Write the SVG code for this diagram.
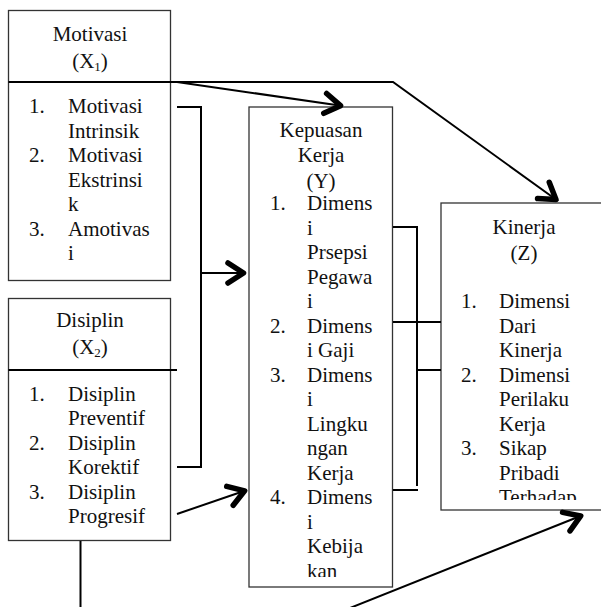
<svg xmlns="http://www.w3.org/2000/svg" width="601" height="607" viewBox="0 0 601 607">
<style>
.box{fill:#fff;stroke:#333;stroke-width:1.3}
.t{font-family:"Liberation Serif","Times New Roman",serif;font-size:21px;fill:#111}
.c{text-anchor:middle}
.ln{fill:none;stroke:#000;stroke-width:2}
</style>
<defs>
<marker id="ah" markerUnits="userSpaceOnUse" markerWidth="40" markerHeight="40" viewBox="-20 -20 40 40" refX="0" refY="0" orient="auto" overflow="visible">
<path d="M-18,-10 L-2.5,0 L-18,10" fill="none" stroke="#000" stroke-width="5.5" stroke-linecap="round" stroke-linejoin="round"/>
</marker>
<clipPath id="clipY"><rect x="249" y="107" width="144" height="470"/></clipPath>
<clipPath id="clipZ"><rect x="441" y="203" width="170" height="297"/></clipPath>
</defs>
<rect width="601" height="607" fill="#fff"/>

<g id="motivasi">
<rect class="box" x="8.5" y="10.5" width="162" height="270"/>
<line x1="8.5" y1="82" x2="171" y2="82" stroke="#000" stroke-width="2"/>
<text class="t c" x="90" y="41">Motivasi</text>
<text class="t c" x="90" y="68">(X<tspan font-size="13" dy="3">1</tspan><tspan dy="-3">)</tspan></text>
<text class="t" x="29" y="113">1.</text><text class="t" x="68" y="113">Motivasi</text>
<text class="t" x="68" y="137.5">Intrinsik</text>
<text class="t" x="29" y="162">2.</text><text class="t" x="68" y="162">Motivasi</text>
<text class="t" x="68" y="186.5">Ekstrinsi</text>
<text class="t" x="68" y="211">k</text>
<text class="t" x="29" y="235.5">3.</text><text class="t" x="68" y="235.5">Amotivas</text>
<text class="t" x="68" y="260">i</text>
</g>

<g id="disiplin">
<rect class="box" x="8.5" y="298.5" width="162" height="242"/>
<line x1="8.5" y1="370" x2="177" y2="370" stroke="#000" stroke-width="2"/>
<text class="t c" x="90" y="326.5">Disiplin</text>
<text class="t c" x="90" y="354">(X<tspan font-size="13" dy="3">2</tspan><tspan dy="-3">)</tspan></text>
<text class="t" x="29" y="400.5">1.</text><text class="t" x="68" y="400.5">Disiplin</text>
<text class="t" x="68" y="425">Preventif</text>
<text class="t" x="29" y="449.5">2.</text><text class="t" x="68" y="449.5">Disiplin</text>
<text class="t" x="68" y="474">Korektif</text>
<text class="t" x="29" y="498.5">3.</text><text class="t" x="68" y="498.5">Disiplin</text>
<text class="t" x="68" y="523">Progresif</text>
</g>

<g id="kepuasan">
<rect class="box" x="249" y="107" width="143.5" height="480"/>
<g clip-path="url(#clipY)">
<text class="t c" x="321" y="137">Kepuasan</text>
<text class="t c" x="321" y="161.5">Kerja</text>
<text class="t c" x="321" y="188">(Y)</text>
<text class="t" x="270" y="210">1.</text><text class="t" x="307" y="210">Dimens</text>
<text class="t" x="307" y="234.5">i</text>
<text class="t" x="307" y="259">Prsepsi</text>
<text class="t" x="307" y="283.5">Pegawa</text>
<text class="t" x="307" y="308">i</text>
<text class="t" x="270" y="332.5">2.</text><text class="t" x="307" y="332.5">Dimens</text>
<text class="t" x="307" y="357">i Gaji</text>
<text class="t" x="270" y="381.5">3.</text><text class="t" x="307" y="381.5">Dimens</text>
<text class="t" x="307" y="406">i</text>
<text class="t" x="307" y="430.5">Lingku</text>
<text class="t" x="307" y="455">ngan</text>
<text class="t" x="307" y="479.5">Kerja</text>
<text class="t" x="270" y="504">4.</text><text class="t" x="307" y="504">Dimens</text>
<text class="t" x="307" y="528.5">i</text>
<text class="t" x="307" y="553">Kebija</text>
<text class="t" x="307" y="577.5">kan</text>
</g>
</g>

<g id="kinerja">
<rect class="box" x="441" y="203" width="170" height="307"/>
<g clip-path="url(#clipZ)">
<text class="t c" x="524" y="234">Kinerja</text>
<text class="t c" x="524" y="260">(Z)</text>
<text class="t" x="461" y="308">1.</text><text class="t" x="499" y="308">Dimensi</text>
<text class="t" x="499" y="332.5">Dari</text>
<text class="t" x="499" y="357">Kinerja</text>
<text class="t" x="461" y="381.5">2.</text><text class="t" x="499" y="381.5">Dimensi</text>
<text class="t" x="499" y="406">Perilaku</text>
<text class="t" x="499" y="430.5">Kerja</text>
<text class="t" x="461" y="455">3.</text><text class="t" x="499" y="455">Sikap</text>
<text class="t" x="499" y="479.5">Pribadi</text>
<text class="t" x="499" y="504">Terhadap</text>
</g>
</g>

<g id="connectors">
<line class="ln" x1="177" y1="82" x2="343" y2="106" marker-end="url(#ah)"/>
<polyline class="ln" points="171,82 393,82 558,201" marker-end="url(#ah)"/>
<polyline class="ln" points="177,107 201,107 201,467 177,467"/>
<line class="ln" x1="201" y1="273" x2="246" y2="273" marker-end="url(#ah)"/>
<line class="ln" x1="177" y1="514" x2="247" y2="490" marker-end="url(#ah)"/>
<line class="ln" x1="80.5" y1="541" x2="80.5" y2="607"/>
<line class="ln" x1="350" y1="608" x2="583" y2="515" marker-end="url(#ah)"/>
<polyline class="ln" points="393,227 417,227 417,486"/>
<line class="ln" x1="393" y1="490" x2="418" y2="490"/>
<line class="ln" x1="393" y1="322" x2="441" y2="322"/>
<line class="ln" x1="417" y1="370" x2="441" y2="370"/>
</g>
</svg>
